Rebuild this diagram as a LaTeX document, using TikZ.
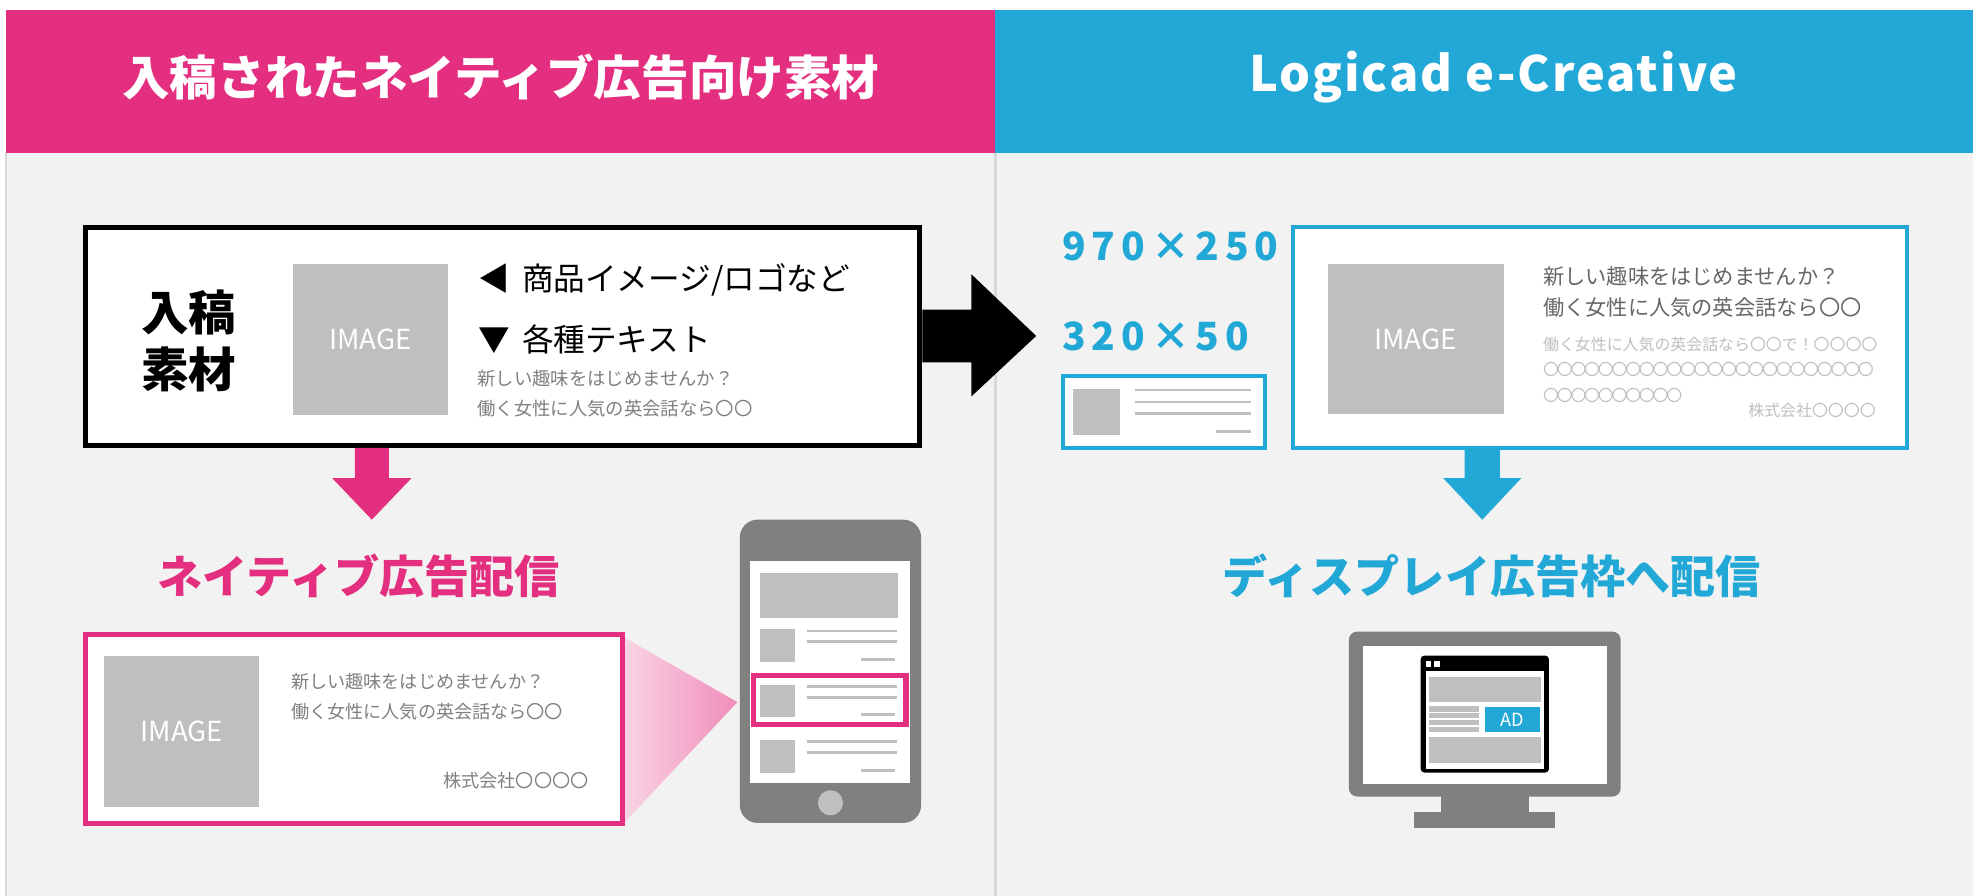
\documentclass[tikz,border=0pt]{standalone}
\usepackage{fontspec}
\setmainfont{Noto Sans CJK JP}
\definecolor{P}{RGB}{228, 46, 128}
\definecolor{B}{RGB}{33, 168, 214}
\definecolor{G}{RGB}{191, 191, 191}
\definecolor{D}{RGB}{128, 128, 128}
\definecolor{F}{RGB}{242, 242, 242}
\definecolor{L}{RGB}{217, 217, 217}
\definecolor{T}{RGB}{102, 102, 102}
\newcommand{\fs}[1]{\fontsize{#1}{#1}\selectfont}
\tikzset{
  titulo/.style={text=white, inner sep=0, font=\bfseries\fs{21.5}},
  imagen/.style={text=white, inner sep=0, font=\fs{12.5}},
  texto/.style={inner sep=0, anchor=west},
  linea/.style={G, line width=1.3pt},
}

\begin{document}
\begin{tikzpicture}[x=0.02cm, y=-0.02cm]
	\useasboundingbox (0,0) rectangle (1568,712);
	\fill[white] (0,0) rectangle (1568,712);
	\fill[F] (5,121) rectangle (1568,712);
	\draw[L, line width=0.9pt] (5,121) -- (5,712);
	\draw[L, line width=1.4pt] (791,121) -- (791,712);

	%Cabeceras
	\fill[P] (5,8) rectangle (791,121.5);
	\fill[B] (791,8) rectangle (1568,121.5);
	\node[titulo] (tizq) at (398,61) {入稿されたネイティブ広告向け素材};
	\node[titulo, font=\bfseries\fs{22}\addfontfeature{LetterSpace=4}] (tder) at (1187,61) {Logicad e-Creative};

	%Caja de material
	\draw[line width=2.3pt, fill=white] (68,181) rectangle (731,354);
	\node[inner sep=0, align=center, font=\bfseries\fontsize{21.5}{26}\selectfont] (nyuko) at (150,271) {入稿\\素材};
	\fill[G] (233,210) rectangle (356,330);
	\node[imagen] (img1) at (294.5,270) {IMAGE};
	\node[texto, font=\fs{14.3}] (item1) at (380,222) {◀\hspace{0.15em} 商品イメージ/ロゴなど};
	\node[texto, font=\fs{14.3}] (item2) at (380,269.5) {▼\hspace{0.15em} 各種テキスト};
	\node[texto, text=D, font=\fs{8.3}] (s1) at (379,301) {新しい趣味をはじめませんか？};
	\node[texto, text=D, font=\fs{8.3}] (s2) at (379,324.5) {働く女性に人気の英会話なら〇〇};

	%Flecha negra
	\fill[black] (733,246) -- (772,246) -- (772,218) -- (823.5,267)
		-- (772,315) -- (772,288) -- (733,288) -- cycle;

	%Flecha rosa
	\fill[P] (282,356) -- (309,356) -- (309,380) -- (327,380)
		-- (295.5,413) -- (264,380) -- (282,380) -- cycle;
	\node[titulo, text=P, font=\bfseries\fs{20.4}] (natv) at (285,458) {ネイティブ広告配信};

	%Degradado hacia el movil
	\shade[left color=P!20, right color=P!55] (495,506) -- (586,558) -- (495,655) -- cycle;

	%Anuncio nativo
	\draw[P, line width=2.3pt, fill=white] (68,504) rectangle (495,654.5);
	\fill[G] (83,521.5) rectangle (206,641.5);
	\node[imagen] (img2) at (144.5,581.5) {IMAGE};
	\node[texto, text=D, font=\fs{8.2}] (p1) at (231,542) {新しい趣味をはじめませんか？};
	\node[texto, text=D, font=\fs{8.2}] (p2) at (231,565.5) {働く女性に人気の英会話なら〇〇};
	\node[texto, anchor=east, text=D, font=\fs{8.2}] (p3) at (468,620) {株式会社〇〇〇〇};

	%Movil
	\fill[D, rounded corners=0.28cm] (588,413) rectangle (732,654);
	\fill[white] (596,446) rectangle (723,622);
	\fill[G] (604,455) rectangle (714,491);
	\foreach \y in {500,544,588} {
		\fill[G] (604,\y) rectangle (632,\y+26);
		\draw[linea] (641,\y+1.5) -- (713,\y+1.5);
		\draw[linea] (641,\y+10) -- (713,\y+10);
		\draw[linea] (684,\y+24) -- (711,\y+24);
	}
	\draw[P, line width=2.3pt] (599,537) rectangle (720,576);
	\fill[G] (660,638) circle (0.2cm);

	%Tamanos
	\node[texto, text=B, font=\bfseries\fs{17.6}\addfontfeature{LetterSpace=15}] (sz1) at (844,195.5) {970×250};
	\node[texto, text=B, font=\bfseries\fs{17.6}\addfontfeature{LetterSpace=15}] (sz2) at (844,267) {320×50};

	%Banner pequeno
	\draw[B, line width=1.8pt, fill=white] (844.6,298.6) rectangle (1005.4,356.4);
	\fill[G] (853,309) rectangle (890,346);
	\draw[linea, line width=1.2pt] (902,310) -- (994,310);
	\draw[linea, line width=1.2pt] (902,319.5) -- (994,319.5);
	\draw[linea, line width=1.2pt] (902,328.5) -- (994,328.5);
	\draw[linea, line width=1.2pt] (966,343) -- (994,343);

	%Banner grande
	\draw[B, line width=1.8pt, fill=white] (1027.6,180.6) rectangle (1515.4,356.4);
	\fill[G] (1055,210) rectangle (1195,329);
	\node[imagen] (img3) at (1125,269.5) {IMAGE};
	\node[texto, text=T, font=\fs{9.6}] (r1) at (1226,220) {新しい趣味をはじめませんか？};
	\node[texto, text=T, font=\fs{9.6}] (r2) at (1226,244.5) {働く女性に人気の英会話なら〇〇};
	\node[texto, text=G, font=\fs{7.2}] (r3) at (1226,274) {働く女性に人気の英会話なら〇〇で！〇〇〇〇};
	\node[texto, text=G, font=\fs{7.2}\addfontfeature{LetterSpace=-14}] (r4) at (1226,294) {〇〇〇〇〇〇〇〇〇〇〇〇〇〇〇〇〇〇〇〇〇〇〇〇};
	\node[texto, text=G, font=\fs{7.2}\addfontfeature{LetterSpace=-14}] (r5) at (1226,314) {〇〇〇〇〇〇〇〇〇〇};
	\node[texto, anchor=east, text=G, font=\fs{7.2}] (r6) at (1491,326) {株式会社〇〇〇〇};

	%Flecha azul
	\fill[B] (1164,356) -- (1192,356) -- (1192,380) -- (1209,380)
		-- (1178,413) -- (1147,380) -- (1164,380) -- cycle;
	\node[titulo, text=B, font=\bfseries\fs{20.4}] (disp) at (1185.5,458) {ディスプレイ広告枠へ配信};

	%Monitor
	\fill[D, rounded corners=0.13cm] (1072,502) rectangle (1288,633);
	\fill[white] (1083,513) rectangle (1277,623);
	\fill[D] (1145,632) rectangle (1215,645);
	\fill[D] (1124,645) rectangle (1236,658);

	%Ventana del navegador
	\fill[black, rounded corners=0.06cm] (1129,521) rectangle (1231,614);
	\fill[white] (1133,533) rectangle (1227,611);
	\fill[white] (1133,525.5) rectangle (1137.5,530);
	\fill[white] (1140,525.5) rectangle (1144.5,530);
	\fill[G] (1136,538) rectangle (1225,558);
	\foreach \y in {561,566.5,572,577.5}
		\fill[G] (1136,\y) rectangle (1175,\y+4.5);
	\fill[B] (1180,562) rectangle (1224,582);
	\node[imagen, font=\fs{8.2}] (ad) at (1202,572) {AD};
	\fill[G] (1136,586) rectangle (1225,606);
\end{tikzpicture}
\end{document}
